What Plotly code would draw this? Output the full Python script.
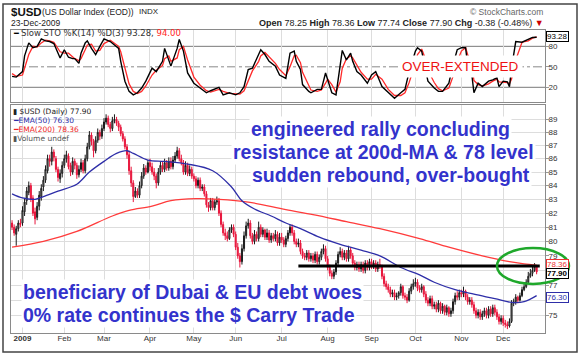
import math
import pandas as pd
import plotly.graph_objects as go

# ------------------------------------------------------------------ data
holidays = ['2008-12-25', '2009-01-01', '2009-01-19', '2009-02-16', '2009-04-10',
            '2009-05-25', '2009-07-03', '2009-09-07', '2009-11-26']
trade_dates = pd.bdate_range('2008-12-24', '2009-12-23', freq='C', holidays=holidays)

close_prices = [
    81.0, 80.6, 80.9, 81.3, 81.2,
    82.2, 82.8, 83.6, 84.0, 83.0, 82.0, 81.6, 82.5, 83.3, 83.8, 84.4, 85.2, 86.0, 85.8, 86.5, 86.1, 85.2, 84.6, 84.9, 85.5,
    86.0, 86.3, 85.4, 85.0, 85.8, 85.5, 84.8, 85.2, 85.7, 85.1, 86.0, 86.9, 87.8, 87.3, 86.6, 87.4, 88.0, 87.7, 88.3,
    88.8, 89.1, 88.6, 88.3, 88.9, 89.0, 88.7, 88.4, 87.9, 87.5, 86.9, 86.3, 85.1, 84.2, 83.2, 83.6, 83.3, 84.0, 84.7, 85.3, 85.0, 85.7,
    85.4, 85.0, 84.7, 84.2, 85.0, 85.5, 85.2, 85.7, 85.3, 85.8, 85.4, 85.9, 86.2, 86.6, 86.0, 85.7, 85.0, 85.5, 84.9, 85.2, 84.7,
    84.5, 84.0, 84.4, 83.8, 83.9, 83.4, 82.6, 82.4, 82.9, 82.4, 82.8, 82.9, 82.0, 81.2, 80.6, 80.4, 80.2, 80.8, 81.0, 80.5,
    79.6, 79.0, 78.6, 79.5, 80.4, 81.1, 81.3, 80.4, 80.0, 80.5, 80.2, 81.0, 80.5, 80.8, 80.3, 80.6, 80.1, 80.4, 80.2, 80.5, 79.9, 80.3,
    80.1, 79.8, 80.2, 80.6, 81.0, 80.6, 80.0, 79.8, 79.9, 79.3, 79.0, 78.9, 79.2, 78.8, 79.0, 78.7, 79.1, 78.6, 78.9, 79.3, 79.5, 78.8,
    78.2, 77.8, 77.6, 77.9, 78.5, 79.1, 79.3, 78.9, 79.2, 78.8, 79.4, 79.0, 78.5, 78.2, 78.4, 78.1, 78.4, 78.0, 78.5, 78.2, 78.6,
    78.3, 78.5, 78.1, 78.4, 78.3, 77.6, 77.1, 76.9, 76.7, 76.4, 76.5, 76.2, 76.3, 76.5, 76.9, 76.3, 76.2, 76.0, 76.6, 76.9, 77.1,
    77.2, 76.8, 76.7, 76.9, 76.4, 76.0, 75.8, 76.1, 75.6, 75.7, 75.4, 75.8, 75.3, 75.6, 75.2, 75.5, 75.1, 75.3, 75.9, 76.3, 76.2, 76.5,
    76.4, 76.6, 76.2, 75.9, 76.0, 75.7, 75.3, 75.0, 75.2, 74.9, 75.1, 75.3, 75.0, 75.4, 75.1, 75.5, 75.2, 74.9, 74.6, 74.8,
    74.5, 74.4, 74.3, 74.6, 75.8, 75.9, 76.2, 76.0, 76.3, 76.7, 76.9, 77.2, 77.6, 77.8, 78.0, 78.28, 77.90,
]
open_prices = [
    81.3, 81.0, 80.5, 80.9, 81.3,
    81.3, 82.1, 82.9, 83.5, 84.0, 83.1, 82.1, 81.7, 82.5, 83.2, 83.9, 84.4, 85.1, 86.0, 85.8, 86.5, 86.0, 85.2, 84.5, 84.9,
    85.5, 86.0, 86.2, 85.5, 85.0, 85.8, 85.5, 84.8, 85.2, 85.7, 85.1, 86.0, 86.9, 87.8, 87.3, 86.6, 87.4, 88.0, 87.7,
    88.3, 88.8, 89.1, 88.6, 88.3, 88.9, 89.0, 88.7, 88.4, 87.9, 87.5, 86.9, 86.3, 85.1, 84.2, 83.2, 83.6, 83.3, 84.0, 84.7, 85.3, 85.0,
    85.7, 85.4, 85.0, 84.7, 84.2, 85.0, 85.5, 85.2, 85.7, 85.3, 85.8, 85.4, 85.9, 86.2, 86.6, 86.0, 85.7, 85.0, 85.5, 84.9, 85.2,
    84.7, 84.5, 84.0, 84.4, 83.8, 83.9, 83.4, 82.6, 82.4, 82.9, 82.4, 82.8, 82.9, 82.0, 81.2, 80.6, 80.4, 80.2, 80.8, 81.0,
    80.5, 79.6, 79.0, 78.6, 79.5, 80.4, 81.1, 81.3, 80.4, 80.0, 80.5, 80.2, 81.0, 80.5, 80.8, 80.3, 80.6, 80.1, 80.4, 80.2, 80.5, 79.9,
    80.3, 80.1, 79.8, 80.2, 80.6, 81.0, 80.6, 80.0, 79.8, 79.9, 79.3, 79.0, 78.9, 79.2, 78.8, 79.0, 78.7, 79.1, 78.6, 78.9, 79.3, 79.5,
    78.8, 78.2, 77.8, 77.6, 77.9, 78.5, 79.1, 79.3, 78.9, 79.2, 78.8, 79.4, 79.0, 78.5, 78.2, 78.4, 78.1, 78.4, 78.0, 78.5, 78.2,
    78.6, 78.3, 78.5, 78.1, 78.4, 78.3, 77.6, 77.1, 76.9, 76.7, 76.4, 76.5, 76.2, 76.3, 76.5, 76.9, 76.3, 76.2, 76.0, 76.6, 76.9,
    77.1, 77.2, 76.8, 76.7, 76.9, 76.4, 76.0, 75.8, 76.1, 75.6, 75.7, 75.4, 75.8, 75.3, 75.6, 75.2, 75.5, 75.1, 75.3, 75.9, 76.3, 76.2,
    76.5, 76.4, 76.6, 76.2, 75.9, 76.0, 75.7, 75.3, 75.0, 75.2, 74.9, 75.1, 75.3, 75.0, 75.4, 75.1, 75.5, 75.2, 74.9, 74.6,
    74.8, 74.5, 74.4, 74.3, 74.6, 75.8, 75.9, 76.2, 76.0, 76.3, 76.7, 76.9, 77.2, 77.6, 77.8, 78.0, 78.25,
]
high_prices = [
    81.5, 81.2, 81.1, 81.5, 81.6,
    82.5, 83.1, 83.9, 84.3, 84.2, 83.3, 82.4, 82.8, 83.6, 84.1, 84.7, 85.5, 86.3, 86.3, 86.9, 86.7, 86.2, 85.4, 85.2, 85.8,
    86.3, 86.6, 86.4, 85.7, 86.1, 86.0, 85.7, 85.5, 86.0, 85.9, 86.3, 87.2, 88.1, 88.0, 87.5, 87.7, 88.3, 88.2, 88.6,
    89.1, 89.4, 89.3, 88.8, 89.2, 89.4, 89.2, 88.9, 88.6, 88.1, 87.7, 87.1, 86.6, 85.4, 84.4, 83.9, 83.8, 84.3, 85.0, 85.6, 85.5, 85.9,
    86.0, 85.7, 85.3, 84.9, 85.3, 85.8, 85.8, 86.0, 85.9, 86.1, 86.1, 86.2, 86.5, 86.9, 86.8, 86.3, 85.9, 85.8, 85.7, 85.5, 85.4,
    84.9, 84.7, 84.6, 84.6, 84.1, 84.1, 83.6, 82.8, 83.1, 83.1, 83.0, 83.2, 83.1, 82.2, 81.4, 80.9, 80.7, 81.0, 81.2, 81.2,
    80.7, 79.9, 79.2, 79.8, 80.7, 81.4, 81.6, 81.5, 80.6, 80.8, 80.7, 81.4, 81.2, 81.0, 80.9, 80.9, 80.8, 80.6, 80.6, 80.8, 80.7, 80.6,
    80.6, 80.3, 80.4, 80.8, 81.2, 81.2, 80.8, 80.2, 80.2, 80.1, 79.5, 79.2, 79.4, 79.4, 79.2, 79.2, 79.3, 79.3, 79.1, 79.5, 79.8, 79.7,
    79.0, 78.4, 78.0, 78.1, 78.7, 79.3, 79.6, 79.5, 79.4, 79.4, 79.7, 79.6, 79.2, 78.7, 78.6, 78.6, 78.6, 78.6, 78.7, 78.7, 78.8,
    78.8, 78.7, 78.7, 78.6, 78.8, 78.4, 77.8, 77.3, 77.1, 76.9, 76.7, 76.7, 76.5, 76.6, 77.1, 77.0, 76.5, 76.4, 76.8, 77.1, 77.4,
    77.5, 77.4, 77.0, 77.1, 77.0, 76.6, 76.2, 76.3, 76.3, 75.9, 75.9, 76.0, 75.9, 75.8, 75.7, 75.7, 75.6, 75.5, 76.1, 76.5, 76.6, 76.7,
    76.7, 76.9, 76.7, 76.4, 76.2, 76.2, 75.9, 75.5, 75.4, 75.4, 75.3, 75.5, 75.5, 75.6, 75.6, 75.7, 75.7, 75.4, 75.1, 75.0,
    75.0, 74.7, 74.6, 74.8, 76.0, 76.1, 76.4, 76.3, 76.5, 76.9, 77.1, 77.4, 77.9, 78.1, 78.3, 78.5, 78.36,
]
low_prices = [
    80.8, 80.4, 79.7, 80.7, 81.0,
    81.1, 81.8, 82.6, 83.3, 82.8, 81.8, 81.2, 81.5, 82.2, 82.9, 83.6, 84.2, 84.9, 85.4, 85.5, 85.8, 85.0, 84.3, 84.2, 84.6,
    85.3, 85.7, 85.2, 84.7, 84.8, 85.2, 84.5, 84.6, 85.0, 84.9, 84.9, 85.8, 86.7, 87.0, 86.1, 86.4, 87.2, 87.4, 87.5,
    88.1, 88.6, 88.4, 88.0, 88.1, 88.7, 88.5, 88.1, 87.7, 87.3, 86.7, 86.0, 84.8, 83.9, 82.8, 83.1, 83.1, 83.1, 83.8, 84.5, 84.8, 84.9,
    85.1, 84.8, 84.4, 83.8, 84.0, 84.8, 85.0, 85.0, 85.1, 85.1, 85.2, 85.2, 85.7, 86.0, 85.8, 85.5, 84.8, 84.8, 84.7, 84.7, 84.5,
    84.3, 83.8, 83.8, 83.6, 83.6, 83.2, 82.4, 82.1, 82.2, 82.2, 82.2, 82.6, 81.8, 81.0, 80.4, 80.1, 80.0, 80.1, 80.6, 80.3,
    79.4, 78.8, 78.2, 78.4, 79.3, 80.2, 80.9, 80.2, 79.8, 79.8, 80.0, 80.0, 80.3, 80.3, 80.1, 80.1, 79.9, 79.9, 80.0, 80.0, 79.7, 79.7,
    79.9, 79.6, 79.6, 80.0, 80.4, 80.4, 79.8, 79.6, 79.6, 79.1, 78.8, 78.7, 78.7, 78.6, 78.6, 78.5, 78.5, 78.4, 78.4, 78.7, 79.1, 78.6,
    78.0, 77.6, 77.4, 77.4, 77.7, 78.3, 78.9, 78.7, 78.7, 78.6, 78.6, 78.8, 78.3, 78.0, 78.0, 77.9, 77.9, 77.8, 77.8, 78.0, 78.0,
    78.1, 78.1, 77.9, 77.9, 78.1, 77.4, 76.9, 76.7, 76.5, 76.2, 76.2, 76.0, 76.0, 76.1, 76.3, 76.1, 76.0, 75.8, 75.9, 76.4, 76.7,
    76.9, 76.6, 76.5, 76.5, 76.2, 75.8, 75.6, 75.6, 75.4, 75.4, 75.2, 75.2, 75.1, 75.1, 75.0, 75.0, 74.9, 74.9, 75.1, 75.7, 76.0, 76.0,
    76.2, 76.2, 76.0, 75.7, 75.7, 75.5, 75.1, 74.8, 74.8, 74.7, 74.7, 74.9, 74.8, 74.8, 74.9, 74.9, 75.0, 74.7, 74.4, 74.4,
    74.3, 74.2, 74.1, 74.2, 74.5, 75.6, 75.7, 75.8, 75.9, 76.2, 76.6, 76.8, 77.1, 77.5, 77.6, 77.9, 77.74,
]

# moving averages at selected trading-day indexes
ema50_day = [0, 5, 11, 15, 22, 31, 37, 44, 50, 55, 58, 65, 73, 84, 96, 105, 110, 116, 124, 131, 138,
             147, 157, 167, 176, 186, 195, 202, 212, 221, 231, 239, 245, 251]
ema50_val = [83.4, 83.1, 83.0, 83.2, 83.6, 84.1, 85.0, 85.8, 86.4, 86.6, 86.4, 85.9, 85.8, 85.6, 85.1, 83.9,
             82.9, 82.3, 81.8, 81.3, 80.9, 80.3, 79.8, 79.4, 79.0, 78.2, 77.7, 77.2, 76.7, 76.4, 76.1, 75.85,
             75.9, 76.3]
ema200_day = [0, 15, 31, 48, 56, 67, 76, 88, 99, 113, 131, 144, 160, 176, 195, 209, 225, 238, 245, 251]
ema200_val = [79.6, 80.0, 80.7, 81.8, 82.2, 82.5, 82.9, 83.05, 83.0, 82.8, 82.25, 81.9, 81.4, 80.9, 80.2,
              79.6, 79.0, 78.6, 78.45, 78.36]

# slow stochastic at selected trading-day indexes
sto_day = [0, 2, 5, 6, 8, 10, 12, 14, 16, 18, 20, 23, 25, 27, 29, 30, 32, 33, 35, 36, 38, 40, 42, 44, 47,
           49, 51, 52, 54, 56, 58, 60, 62, 64, 67, 69, 72, 73, 75, 76, 79, 80, 82, 84, 87, 90, 93, 95, 99,
           101, 104, 107, 109, 111, 113, 115, 118, 119, 121, 123, 126, 128, 131, 133, 135, 136, 138, 139,
           142, 143, 146, 148, 150, 151, 153, 155, 157, 158, 160, 162, 163, 165, 167, 170, 172, 174, 177,
           180, 183, 186, 188, 190, 193, 194, 196, 198, 199, 202, 204, 206, 209, 211, 213, 215, 217, 218,
           220, 221, 223, 225, 228, 230, 232, 233, 235, 237, 238, 239, 241, 244, 247, 249, 251]
sto_k = [36, 35, 43, 66, 85, 78, 80, 91, 88, 87, 84, 63, 75, 64, 62, 62, 55, 70, 85, 88, 77, 68, 80, 91, 87,
         82, 77, 58, 29, 14, 9, 12, 19, 29, 48, 43, 58, 77, 60, 51, 77, 90, 73, 41, 26, 19, 12, 15, 20, 9,
         12, 9, 12, 21, 46, 48, 68, 75, 68, 58, 51, 38, 33, 70, 73, 58, 46, 24, 14, 12, 17, 17, 41, 31, 12,
         9, 48, 74, 60, 70, 58, 43, 38, 26, 38, 43, 21, 12, 4, 12, 17, 43, 73, 78, 73, 43, 29, 19, 14, 14,
         26, 53, 75, 78, 78, 53, 38, 12, 26, 21, 29, 31, 34, 21, 29, 28, 21, 48, 87, 86, 90, 93, 93.28]
sto_d = [40, 36, 38, 48, 68, 80, 79, 85, 89, 88, 86, 72, 70, 70, 64, 62, 59, 62, 75, 82, 83, 73, 74, 84, 89,
         85, 80, 72, 48, 25, 14, 11, 14, 22, 38, 45, 52, 62, 66, 58, 63, 75, 80, 60, 35, 23, 15, 13, 17, 14,
         11, 11, 10, 15, 30, 44, 58, 66, 71, 65, 55, 46, 37, 50, 66, 67, 56, 42, 22, 16, 14, 16, 26, 32, 24,
         13, 28, 48, 62, 66, 63, 52, 42, 32, 32, 39, 32, 17, 8, 8, 12, 27, 55, 68, 76, 60, 45, 27, 18, 15,
         19, 36, 58, 73, 78, 68, 52, 30, 24, 22, 25, 29, 32, 28, 27, 27, 25, 32, 60, 86, 88, 92, 94]

resistance_level = 78.3
resistance_from_day = 137
resistance_to_day = 252.5

month_labels = ['<b>2009</b>', 'Feb', 'Mar', 'Apr', 'May', 'Jun', 'Jul', 'Aug', 'Sep', 'Oct', 'Nov', 'Dec']
price_ticks = [75, 76, 77, 78, 79, 80, 81, 82, 83, 84, 85, 86, 87, 88, 89]
price_tick_text = ['75', '', '77', '', '79', '80', '81', '82', '83', '84', '85', '86', '87', '88', '89']
sto_ticks = [20, 50, 80]

# ------------------------------------------------------------------ geometry helpers
n = len(close_prices)
days = list(range(n))
dates = list(trade_dates[:n])
month_start = []
seen = set()
for i, d in enumerate(dates):
    key = (d.year, d.month)
    if d.year == 2009 and key not in seen:
        seen.add(key)
        month_start.append(i)
month_start = month_start[:len(month_labels)]

FONT = "Liberation Sans, Arial, sans-serif"
VFONT = "DejaVu Sans, Verdana, sans-serif"
W, H = 581, 357
L, R, T, B = 11, 545, 30, 333          # plot area in pixels
PRICE_TOP, STO_BOTTOM = 105, 102


def xp(px):
    return (px - L) / (R - L)


def yp(py):
    return (B - py) / (B - T)


def note(text, x, y, size=9, color='#222', xanchor='left', family=FONT, **kw):
    return dict(text=text, x=xp(x), y=yp(y), xref='paper', yref='paper', showarrow=False,
                xanchor=xanchor, yanchor='middle',
                font=dict(size=size, color=color, family=family), **kw)


BLUE_TXT = '#3333cc'
RED = '#e8163c'

fig = go.Figure()

# price candles
fig.add_trace(go.Candlestick(
    x=days, open=open_prices, high=high_prices, low=low_prices, close=close_prices,
    xaxis='x', yaxis='y', whiskerwidth=0,
    increasing=dict(line=dict(color='#1a1a1a', width=1), fillcolor='#9a9a9a'),
    decreasing=dict(line=dict(color=RED, width=1), fillcolor=RED),
    showlegend=False, hoverinfo='skip'))

fig.add_trace(go.Scatter(x=ema200_day, y=ema200_val, mode='lines', xaxis='x', yaxis='y',
                         line=dict(color='#ff3b3b', width=1.3, shape='spline'), hoverinfo='skip'))
fig.add_trace(go.Scatter(x=ema50_day, y=ema50_val, mode='lines', xaxis='x', yaxis='y',
                         line=dict(color='#2e2ea8', width=1.3, shape='spline'), hoverinfo='skip'))
fig.add_trace(go.Scatter(x=[resistance_from_day, resistance_to_day],
                         y=[resistance_level, resistance_level], mode='lines', xaxis='x', yaxis='y',
                         line=dict(color='#000000', width=3), hoverinfo='skip'))

# stochastic
fig.add_trace(go.Scatter(x=sto_day, y=sto_d, mode='lines', xaxis='x2', yaxis='y2',
                         line=dict(color='#ff2a2a', width=1.3), hoverinfo='skip'))
fig.add_trace(go.Scatter(x=sto_day, y=sto_k, mode='lines', xaxis='x2', yaxis='y2',
                         line=dict(color='#000000', width=1.4), hoverinfo='skip'))

price_dom = [0, yp(PRICE_TOP)]
sto_dom = [yp(STO_BOTTOM), 1]
GRID = '#dddddd'
FRAME = '#8a8a8a'

fig.update_layout(
    width=W, height=H, margin=dict(l=L, r=W - R, t=T, b=H - B, autoexpand=False),
    paper_bgcolor='white', plot_bgcolor='white', showlegend=False,
    font=dict(family=FONT, size=8, color='#333'),
    xaxis=dict(domain=[0, 1], anchor='y', range=[-0.5, 255], tickmode='array',
               tickvals=month_start, ticktext=month_labels, showgrid=True, gridcolor=GRID,
               gridwidth=1, showline=True, mirror=True, linecolor=FRAME, zeroline=False,
               ticks='', ticklabelstandoff=-3, automargin=False,
               tickfont=dict(size=8, color='#333'), rangeslider=dict(visible=False),
               fixedrange=True),
    xaxis2=dict(domain=[0, 1], anchor='y2', matches='x', range=[-0.5, 255], tickmode='array',
                tickvals=month_start, showticklabels=False, showgrid=True, gridcolor=GRID,
                showline=True, mirror=True, linecolor=FRAME, zeroline=False, ticks='',
                automargin=False),
    yaxis=dict(domain=price_dom, anchor='x', type='log',
               range=[math.log10(73.85), math.log10(90.13)], side='right', tickmode='array',
               tickvals=price_ticks, ticktext=price_tick_text, showgrid=True,
               gridcolor=GRID, showline=True, mirror=True, linecolor=FRAME, zeroline=False,
               ticks='outside', ticklen=3, tickcolor='#999', ticklabelstandoff=-2,
               automargin=False, tickfont=dict(size=8, color='#333')),
    yaxis2=dict(domain=sto_dom, anchor='x2', range=[-1.5, 103.9], side='right', tickmode='array',
                tickvals=sto_ticks, showgrid=False, showline=True, mirror=True, linecolor=FRAME,
                zeroline=False, ticks='outside', ticklen=3, tickcolor='#999', ticklabelstandoff=-2,
                automargin=False, tickfont=dict(size=8, color='#333')),
)

shapes = [
    dict(type='line', xref='paper', yref='y2', x0=0, x1=1, y0=80, y1=80,
         line=dict(color='#7a7a7a', width=1), layer='below'),
    dict(type='line', xref='paper', yref='y2', x0=0, x1=1, y0=20, y1=20,
         line=dict(color='#7a7a7a', width=1), layer='below'),
    dict(type='line', xref='paper', yref='y2', x0=0, x1=1, y0=50, y1=50,
         line=dict(color='#8a8a8a', width=1, dash='dashdot'), layer='below'),
    # green highlight ellipse
    dict(type='circle', xref='paper', yref='paper', x0=xp(497), x1=xp(569), y0=yp(284), y1=yp(248),
         line=dict(color='#1fa82b', width=2.5), layer='above'),
    # outer frame
    dict(type='rect', xref='paper', yref='paper', x0=xp(3), x1=xp(577), y0=yp(352), y1=yp(4),
         line=dict(color='#444', width=1.5), layer='above'),
]
fig.update_layout(shapes=shapes)

annotations = [
    note('<b>$USD</b>', 9, 11.5, size=11.5, color='#111'),
    note('(US Dollar Index (EOD))', 40, 12, size=8.5, color='#222'),
    note('INDX', 137, 12, size=8, color='#222'),
    note('23-Dec-2009', 9, 23, size=8.5, color='#222'),
    note('\u00a9 StockCharts.com', 545, 12, size=8.5, color='#666', xanchor='right'),
    note('<b>Open</b> 78.25 <b>High</b> 78.36 <b>Low</b> 77.74 <b>Close</b> 77.90 '
         '<b>Chg</b> -0.38 (-0.48%) <span style="color:#cc0000">\u25bc</span>',
         546, 23, size=9, color='#222', xanchor='right'),
    # stochastic legend
    note('\u2501', 11, 33.5, size=8, color='#000', family=VFONT),
    note('Slow STO %K(14) %D(3) 93.28, <span style="color:#ff2222">94.00</span>', 19, 33.5,
         size=8.5, color='#333', family=VFONT),
    # price legend
    note('\u25ae $USD (Daily) 77.90', 11, 111, size=7.5, color='#222', family=VFONT),
    note('\u2501EMA(50) %.2f' % ema50_val[-1], 11, 120.5, size=7.5, color='#2e2ea8', family=VFONT),
    note('\u2501EMA(200) %.2f' % ema200_val[-1], 11, 129.5, size=7.5, color='#ee2222', family=VFONT),
    note('\u25aeVolume undef', 11, 138, size=7.5, color='#555', family=VFONT),
    # right-side value boxes
    note('%.2f' % sto_k[-1], 557, 37, size=8, color='#000', xanchor='center',
         bgcolor='white', bordercolor='#000', borderwidth=1, borderpad=0),
    note('%.2f' % ema200_val[-1], 557, 264.5, size=8, color='#ee3333', xanchor='center',
         bgcolor='white', bordercolor='#ee3333', borderwidth=1, borderpad=0),
    note('<b>%.2f</b>' % close_prices[-1], 557, 273, size=8, color='#000', xanchor='center',
         bgcolor='white', bordercolor='#000', borderwidth=1, borderpad=0),
    note('%.2f' % ema50_val[-1], 557, 297.5, size=8, color='#2e2ea8', xanchor='center',
         bgcolor='white', bordercolor='#2e2ea8', borderwidth=1, borderpad=0),
    # commentary
    note('OVER-EXTENDED', 460, 66, size=13.5, color='#ee1111', xanchor='center',
         bgcolor='white', borderpad=3),
    note('<b>engineered rally concluding</b>', 249, 129, size=19.5, color=BLUE_TXT,
         bgcolor='white', borderpad=1),
    note('<b>resistance at 200d-MA &amp; 78 level</b>', 231, 152, size=19.5, color=BLUE_TXT,
         bgcolor='white', borderpad=1),
    note('<b>sudden rebound, over-bought</b>', 250, 175, size=19.5, color=BLUE_TXT,
         bgcolor='white', borderpad=1),
    note('<b>beneficiary of Dubai &amp; EU debt woes</b>', 21, 292, size=19.5, color=BLUE_TXT,
         bgcolor='white', borderpad=1),
    note('<b>0% rate continues the $ Carry Trade</b>', 21, 315, size=19.5, color=BLUE_TXT,
         bgcolor='white', borderpad=1),
]
fig.update_layout(annotations=annotations)

fig.write_html("out.html", config={'displayModeBar': False},
               post_script="document.body.style.margin='0px';")
